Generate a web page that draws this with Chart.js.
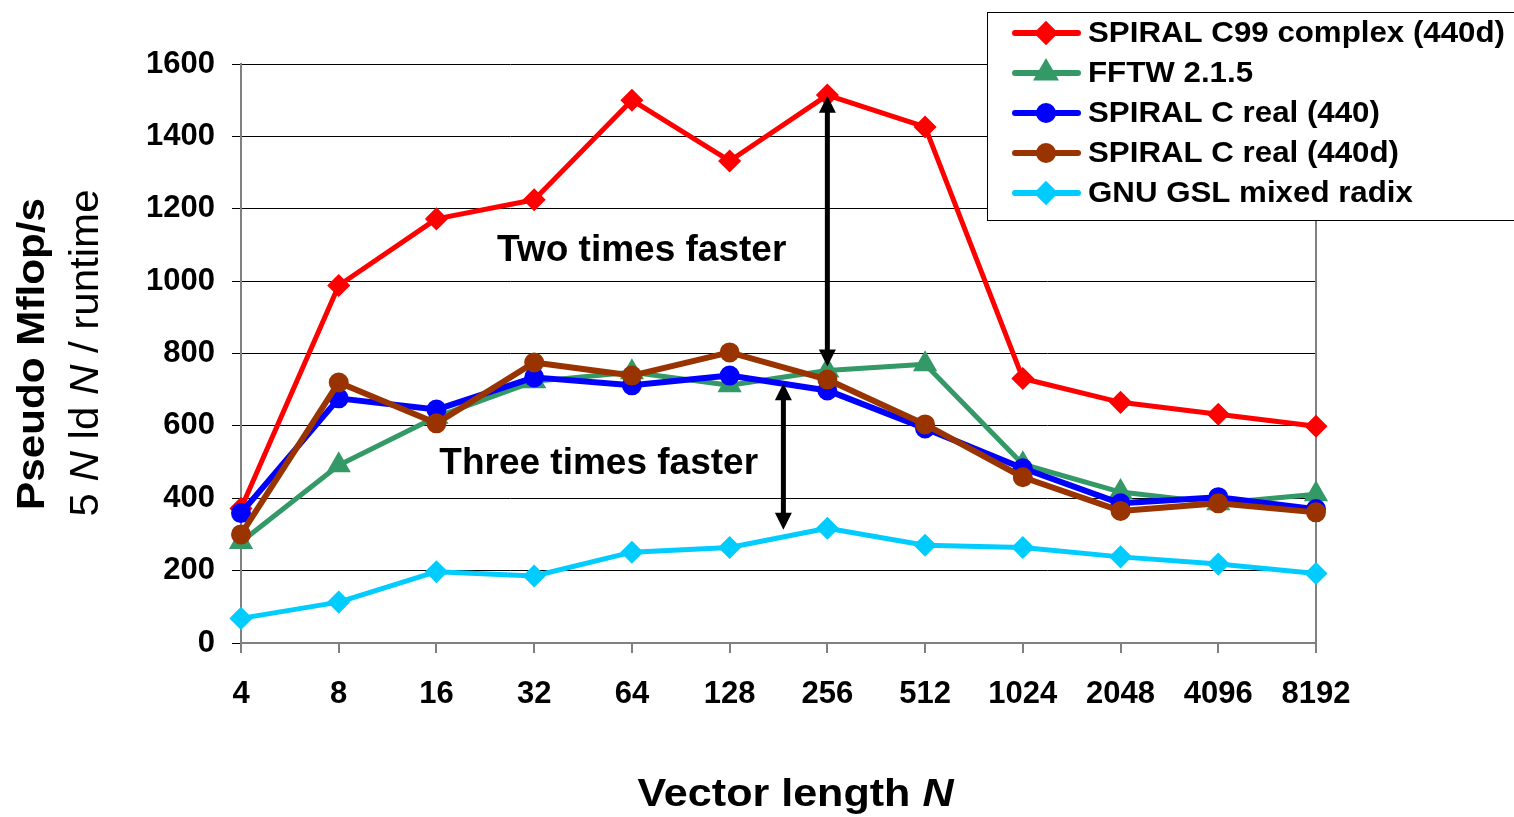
<!DOCTYPE html>
<html>
<head>
<meta charset="utf-8">
<script src="https://cdn.jsdelivr.net/npm/chart.js@4"></script>
<style>
  html, body { margin: 0; padding: 0; background: #fff; }
  #wrap { width: 1514px; height: 817px; }
</style>
</head>
<body>
<div id="wrap"><canvas id="myChart"></canvas></div>
<script>
// vector lengths on the x axis
const sizes = ['4', '8', '16', '32', '64', '128', '256', '512', '1024', '2048', '4096', '8192'];

// pseudo Mflop/s
const spiralC99 = [372, 988, 1172, 1225, 1500, 1332, 1514, 1426, 731, 665, 632, 599];
const fftw215 = [279, 491, 625, 723, 748, 712, 753, 770, 494, 417, 386, 411];
const spiralReal440 = [359, 676, 645, 734, 712, 739, 698, 593, 483, 386, 403, 370];
const spiralReal440d = [300, 720, 607, 775, 739, 803, 728, 604, 458, 365, 386, 361];
const gslMixed = [68, 113, 197, 185, 251, 264, 317, 270, 264, 238, 218, 192];

const yTicks = [0, 200, 400, 600, 800, 1000, 1200, 1400, 1600];

const FONT = '"Liberation Sans", Arial, sans-serif';

// arrows: [x index, from value, to value]
const arrows = [
  [6, 1512, 764],
  [5.55, 718, 313]
];
// notes: [text, x index, value]
const notes = [
  ['Two times faster', 4.1, 1085],
  ['Three times faster', 3.66, 494]
];

function drawArrow(ctx, x, y1, y2) {
  const head = 17, half = 8.5;
  ctx.save();
  ctx.strokeStyle = '#000';
  ctx.fillStyle = '#000';
  ctx.lineWidth = 5;
  ctx.beginPath();
  ctx.moveTo(x, y1 + head - 2);
  ctx.lineTo(x, y2 - head + 2);
  ctx.stroke();
  ctx.beginPath();
  ctx.moveTo(x, y1);
  ctx.lineTo(x - half, y1 + head);
  ctx.lineTo(x + half, y1 + head);
  ctx.closePath();
  ctx.fill();
  ctx.beginPath();
  ctx.moveTo(x, y2);
  ctx.lineTo(x - half, y2 - head);
  ctx.lineTo(x + half, y2 - head);
  ctx.closePath();
  ctx.fill();
  ctx.restore();
}

// draws a run of [text, italic] pieces centred on cx, optionally stretched to a width
function drawPieces(ctx, pieces, cx, y, weight, size, width) {
  let total = 0;
  pieces.forEach(p => {
    ctx.font = (p[1] ? 'italic ' : '') + weight + ' ' + size + 'px ' + FONT;
    total += ctx.measureText(p[0]).width;
  });
  const k = width ? width / total : 1;
  ctx.save();
  ctx.translate(cx, y);
  ctx.scale(k, 1);
  let x = -total / 2;
  pieces.forEach(p => {
    ctx.font = (p[1] ? 'italic ' : '') + weight + ' ' + size + 'px ' + FONT;
    ctx.fillText(p[0], x, 0);
    x += ctx.measureText(p[0]).width;
  });
  ctx.restore();
}

const extras = {
  id: 'extras',
  beforeDatasetsDraw(chart) {
    const { ctx, chartArea } = chart;
    // right frame line
    ctx.save();
    ctx.strokeStyle = '#808080';
    ctx.lineWidth = 2;
    ctx.beginPath();
    ctx.moveTo(chartArea.right, chartArea.top);
    ctx.lineTo(chartArea.right, chartArea.bottom);
    ctx.stroke();
    ctx.restore();
  },
  afterDatasetsDraw(chart) {
    const { ctx } = chart;
    const xs = chart.scales.x, ys = chart.scales.y;
    arrows.forEach(a => {
      drawArrow(ctx, xs.getPixelForValue(a[0]), ys.getPixelForValue(a[1]), ys.getPixelForValue(a[2]));
    });
    ctx.save();
    ctx.fillStyle = '#000';
    ctx.textAlign = 'left';
    ctx.textBaseline = 'middle';
    notes.forEach(n => {
      drawPieces(ctx, [[n[0], false]], xs.getPixelForValue(n[1]), ys.getPixelForValue(n[2]), 'bold', 37);
    });
    ctx.restore();
  },
  afterDraw(chart) {
    const { ctx, chartArea } = chart;
    ctx.save();
    ctx.fillStyle = '#000';
    ctx.textAlign = 'left';
    ctx.textBaseline = 'alphabetic';

    // y axis title, two lines rotated
    ctx.save();
    ctx.translate(44, 354);
    ctx.rotate(-Math.PI / 2);
    drawPieces(ctx, [['Pseudo Mflop/s', false]], 0, 0, 'bold', 38, 312);
    ctx.restore();
    ctx.save();
    ctx.translate(98, 353);
    ctx.rotate(-Math.PI / 2);
    drawPieces(ctx, [['5 ', false], ['N', true], [' ld ', false], ['N', true], [' / runtime', false]], 0, 0, 'normal', 41, 327);
    ctx.restore();

    // x axis title
    drawPieces(ctx, [['Vector length ', false], ['N', true]], (chartArea.left + chartArea.right) / 2 + 17, 806, 'bold', 39, 316);

    // legend box
    ctx.fillStyle = '#fff';
    ctx.fillRect(987, 12, 540, 208);
    ctx.strokeStyle = '#000';
    ctx.lineWidth = 1;
    ctx.strokeRect(987.5, 12.5, 540, 208);
    const rows = [33, 73, 113, 153, 193];
    ctx.font = 'bold 30px ' + FONT;
    const k = 417 / ctx.measureText(chart.data.datasets[0].label).width;
    chart.data.datasets.forEach((ds, i) => {
      const y = rows[i];
      ctx.strokeStyle = ds.borderColor;
      ctx.lineWidth = 6;
      ctx.lineCap = 'round';
      ctx.beginPath();
      ctx.moveTo(1015, y);
      ctx.lineTo(1078, y);
      ctx.stroke();
      ctx.fillStyle = ds.borderColor;
      Chart.helpers.drawPoint(ctx, {
        pointStyle: ds.pointStyle,
        radius: ds.pointRadius,
        rotation: 0,
        borderWidth: 1
      }, 1046, y);
      ctx.fillStyle = '#000';
      ctx.font = 'bold 30px ' + FONT;
      ctx.textBaseline = 'middle';
      ctx.save();
      ctx.translate(1088, y + 1);
      ctx.scale(k, 1);
      ctx.fillText(ds.label, 0, 0);
      ctx.restore();
    });
    ctx.restore();
  }
};

const ctx = document.getElementById('myChart').getContext('2d');

new Chart(ctx, {
  type: 'line',
  data: {
    labels: sizes,
    datasets: [
      { label: 'SPIRAL C99 complex (440d)', data: spiralC99, borderColor: '#ff0000', backgroundColor: '#ff0000',
        borderWidth: 5, pointStyle: 'rectRot', pointRadius: 8, order: 5 },
      { label: 'FFTW 2.1.5', data: fftw215, borderColor: '#339966', backgroundColor: '#339966',
        borderWidth: 5, pointStyle: 'triangle', pointRadius: 9, order: 4 },
      { label: 'SPIRAL C real (440)', data: spiralReal440, borderColor: '#0000ff', backgroundColor: '#0000ff',
        borderWidth: 6, pointStyle: 'circle', pointRadius: 7, order: 3 },
      { label: 'SPIRAL C real (440d)', data: spiralReal440d, borderColor: '#993300', backgroundColor: '#993300',
        borderWidth: 6, pointStyle: 'circle', pointRadius: 7, order: 2 },
      { label: 'GNU GSL mixed radix', data: gslMixed, borderColor: '#00ccff', backgroundColor: '#00ccff',
        borderWidth: 5, pointStyle: 'rectRot', pointRadius: 8, order: 1 }
    ]
  },
  options: {
    responsive: true,
    maintainAspectRatio: false,
    animation: false,
    layout: { padding: { left: 0, top: 64, right: 198, bottom: 0 } },
    plugins: {
      legend: { display: false },
      tooltip: { enabled: false }
    },
    elements: {
      line: { tension: 0, borderJoinStyle: 'round' },
      point: { borderWidth: 1 }
    },
    scales: {
      x: {
        offset: false,
        afterFit: s => { s.height = 174; },
        grid: { drawOnChartArea: false, drawTicks: true, tickLength: 10, color: '#808080', lineWidth: 2 },
        border: { display: true, color: '#808080', width: 2 },
        ticks: {
          color: '#000',
          padding: 23,
          maxRotation: 0,
          autoSkip: false,
          font: { family: FONT, size: 31, weight: 'bold' }
        }
      },
      y: {
        min: 0,
        max: 1600,
        afterFit: s => { s.width = 241; },
        afterBuildTicks: s => { s.ticks = yTicks.map(v => ({ value: v })); },
        grid: { color: '#000', lineWidth: 1, tickLength: 9 },
        border: { display: true, color: '#808080', width: 2 },
        ticks: {
          color: '#000',
          padding: 17,
          callback: v => String(v),
          font: { family: FONT, size: 31, weight: 'bold' }
        }
      }
    }
  },
  plugins: [extras]
});
</script>
</body>
</html>
